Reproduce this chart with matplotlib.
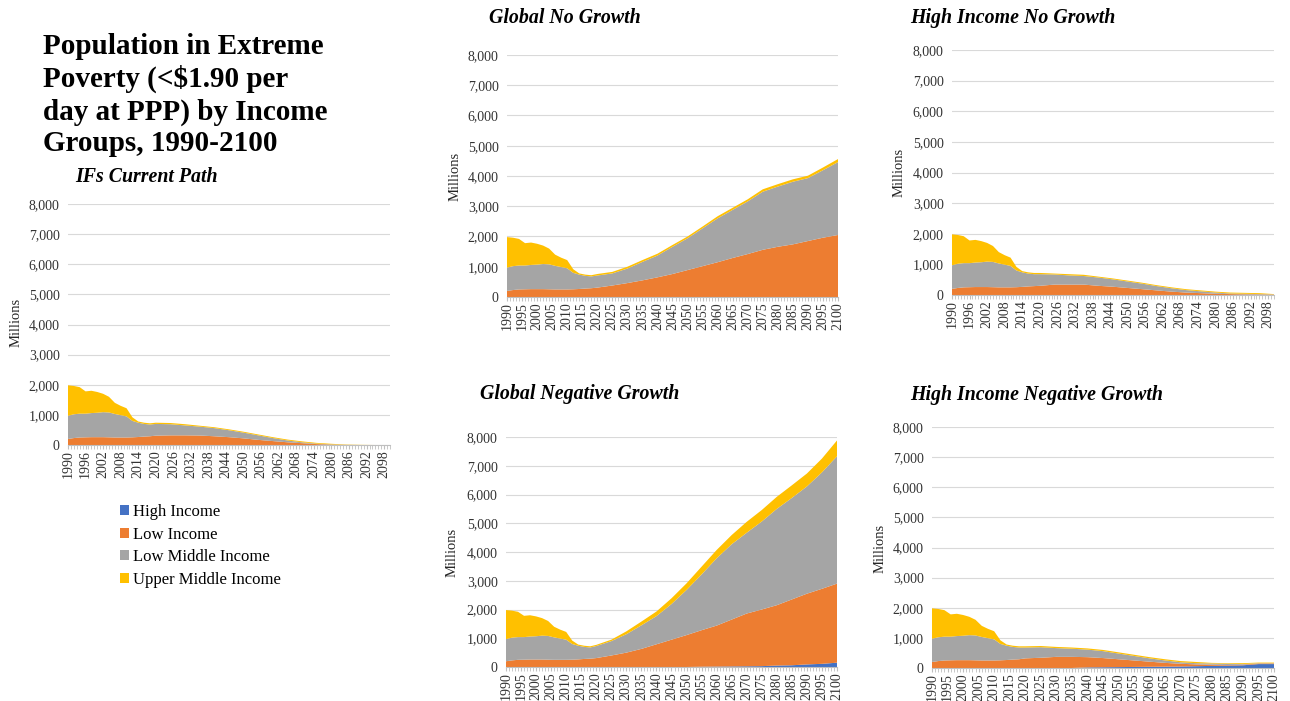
import matplotlib
matplotlib.use("Agg")
import matplotlib.pyplot as plt
from matplotlib.patches import Patch
import numpy as np

# ---------------- data (millions) ----------------
series_names = ["High Income", "Low Income", "Low Middle Income", "Upper Middle Income"]
colors = ["#4472C4", "#ED7D31", "#A5A5A5", "#FFC000"]

hist_years = [1990, 1992, 1994, 1996, 1998, 2000, 2002, 2004, 2006, 2008, 2010, 2012, 2014, 2016, 2018]
hist_high = [0] * 15
hist_low = [200, 230, 250, 255, 260, 260, 260, 255, 250, 250, 250, 255, 265, 280, 290]
hist_lowmid = [770, 790, 790, 785, 800, 810, 830, 825, 780, 740, 700, 545, 475, 420, 390]
hist_upper = [1010, 940, 880, 740, 740, 690, 610, 520, 370, 310, 270, 120, 40, 40, 40]

fut_years = [2020, 2025, 2030, 2035, 2040, 2045, 2050, 2055, 2060, 2065, 2070, 2075, 2080, 2085, 2090, 2095, 2100]

# IFs Current Path
cp_high = [0] * 17
cp_low = [310, 320, 320, 315, 290, 260, 220, 170, 130, 90, 60, 30, 10, 2, 0, 0, 0]
cp_lowmid = [390, 370, 330, 295, 270, 230, 190, 150, 100, 60, 30, 15, 10, 3, 0, 0, 0]
cp_upper = [40, 40, 40, 30, 30, 30, 30, 30, 30, 30, 30, 25, 20, 10, 5, 0, 0]

# Global No Growth
gng_high = [0] * 17
gng_low = [310, 380, 460, 550, 650, 760, 890, 1020, 1150, 1290, 1420, 1560, 1660, 1740, 1850, 1960, 2050]
gng_lowmid = [400, 400, 480, 610, 720, 900, 1050, 1250, 1450, 1590, 1740, 1920, 1990, 2070, 2080, 2230, 2410]
gng_upper = [50, 50, 60, 60, 60, 60, 60, 60, 70, 70, 70, 80, 80, 80, 80, 90, 100]

# High Income No Growth
hng_high = [0] * 17
hng_low = [300, 340, 340, 340, 300, 270, 230, 190, 150, 110, 80, 60, 40, 30, 20, 15, 10]
hng_lowmid = [380, 330, 300, 280, 270, 240, 210, 180, 140, 110, 80, 60, 40, 20, 20, 15, 10]
hng_upper = [40, 30, 40, 40, 30, 30, 30, 30, 30, 30, 30, 30, 30, 30, 30, 30, 10]

# Global Negative Growth
gneg_high = [0, 0, 0, 0, 0, 0, 0, 10, 15, 20, 25, 30, 50, 60, 90, 110, 150]
gneg_low = [310, 400, 500, 630, 790, 950, 1110, 1270, 1425, 1630, 1835, 1970, 2100, 2290, 2460, 2610, 2750]
gneg_lowmid = [420, 500, 640, 820, 980, 1240, 1570, 1940, 2340, 2620, 2810, 3060, 3350, 3530, 3730, 4050, 4430]
gneg_upper = [40, 50, 100, 130, 160, 200, 230, 270, 290, 320, 380, 400, 420, 440, 450, 480, 550]

# High Income Negative Growth
hneg_high = [0, 0, 0, 0, 20, 25, 30, 35, 40, 45, 50, 60, 70, 80, 90, 130, 130]
hneg_low = [320, 340, 370, 370, 340, 305, 260, 215, 170, 125, 90, 60, 40, 20, 20, 20, 20]
hneg_lowmid = [360, 350, 290, 270, 250, 230, 190, 150, 110, 80, 50, 40, 40, 40, 20, 10, 10]
hneg_upper = [40, 40, 40, 40, 40, 40, 40, 40, 40, 40, 40, 40, 20, 20, 30, 20, 20]

# ---------------- layout ----------------
W, H = 1290, 701
fig = plt.figure(figsize=(W / 100, H / 100), dpi=100)
SERIF = ["Liberation Serif", "DejaVu Serif"]
plt.rcParams["font.family"] = SERIF


def ax_px(left, top, right, bottom):
    return fig.add_axes([left / W, 1 - bottom / H, (right - left) / W, (bottom - top) / H])


def panel(rect, title, title_xy, ylab_xy, scen, step):
    high, low, lowmid, upper = scen
    ax = ax_px(*rect)
    yrs = hist_years + fut_years
    ax.stackplot(yrs,
                 hist_high + high, hist_low + low, hist_lowmid + lowmid, hist_upper + upper,
                 colors=colors, linewidth=0, zorder=2)
    ax.set_xlim(1990, 2100)
    ax.set_ylim(0, 8000)
    ax.set_yticks(range(0, 8001, 1000))
    ax.set_yticklabels([f"{v:,}" for v in range(0, 8001, 1000)], fontsize=10, color="#333333")
    ticks = list(range(1990, 2101, step))
    ax.set_xticks(ticks)
    ax.set_xticklabels([str(t) for t in ticks], rotation=90, fontsize=10, color="#333333")
    ax.set_xticks(range(1990, 2101, 1), minor=True)
    ax.tick_params(axis="x", which="both", length=3, color="#BFBFBF", pad=1)
    ax.tick_params(axis="y", length=0, pad=6)
    ax.grid(axis="y", color="#D9D9D9", linewidth=0.8, zorder=0)
    ax.set_axisbelow(True)
    for s in ["top", "right", "left"]:
        ax.spines[s].set_visible(False)
    ax.spines["bottom"].set_color("#BFBFBF")
    ax.spines["bottom"].set_zorder(3)
    fig.text(title_xy[0] / W, 1 - title_xy[1] / H, title, fontsize=14.3,
             fontweight="bold", fontstyle="italic", va="center", ha="left")
    fig.text(ylab_xy[0] / W, 1 - ylab_xy[1] / H, "Millions", fontsize=10.5,
             rotation=90, va="center", ha="center", color="#262626")
    return ax


panel((68, 204, 390, 445), "IFs Current Path", (75, 177), (16, 322),
      (cp_high, cp_low, cp_lowmid, cp_upper), 6)
panel((507, 55, 838, 297), "Global No Growth", (489, 18), (455, 176),
      (gng_high, gng_low, gng_lowmid, gng_upper), 5)
panel((952, 50, 1274, 295), "High Income No Growth", (910, 18), (899, 172),
      (hng_high, hng_low, hng_lowmid, hng_upper), 6)
panel((506, 437, 837, 667), "Global Negative Growth", (480, 394), (452, 552),
      (gneg_high, gneg_low, gneg_lowmid, gneg_upper), 5)
panel((932, 427, 1274, 668), "High Income Negative Growth", (910, 395), (880, 548),
      (hneg_high, hneg_low, hneg_lowmid, hneg_upper), 5)

fig.text(43 / W, 1 - 33 / H,
         "Population in Extreme\nPoverty (<$1.90 per\nday at PPP) by Income\nGroups, 1990-2100",
         fontsize=21, fontweight="bold", va="top", ha="left", linespacing=1.23)

handles = [Patch(facecolor=c, edgecolor="none") for c in colors]
fig.legend(handles, series_names, loc="upper left", bbox_to_anchor=(120 / W, 1 - 504 / H),
           frameon=False, fontsize=12, handlelength=0.55, handleheight=0.55,
           handletextpad=0.25, labelspacing=0.4, borderaxespad=0, borderpad=0)

fig.savefig("out.png", dpi=100)
